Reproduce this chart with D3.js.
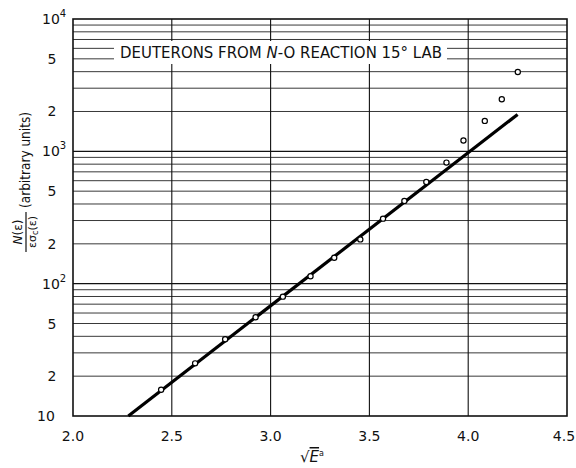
<!DOCTYPE html>
<html>
<head>
<meta charset="utf-8">
<script src="https://cdn.jsdelivr.net/npm/d3@7"></script>
<style>
  body { margin: 0; background: #fff; }
  text { font-family: "DejaVu Sans", sans-serif; fill: #111; }
</style>
</head>
<body>
<div id="chart"></div>
<script>
// measured points (sqrt E, N/eps sigma)
var sqrtE = [2.446, 2.618, 2.770, 2.924, 3.062, 3.202, 3.322, 3.454, 3.569, 3.677, 3.788, 3.890, 3.976, 4.084, 4.170, 4.251];
var counts = [15.8, 25.0, 38, 55.7, 79.8, 113.7, 157, 216, 310, 422, 587, 822, 1208, 1698, 2477, 3981];

// straight-line fit drawn on the plot
var fitX = [2.28, 4.25];
var fitY = [10, 1900];

var xTicks = [2.0, 2.5, 3.0, 3.5, 4.0, 4.5];
var yMajor = [10, 100, 1000, 10000];
var yLabelled = [20, 50, 200, 500, 2000, 5000];

var width = 576, height = 468;
var margin = { top: 19, right: 9, bottom: 52, left: 73 };

var svg = d3.select("#chart").append("svg")
  .attr("width", width)
  .attr("height", height);

var x = d3.scaleLinear().domain([2.0, 4.5]).range([margin.left, width - margin.right]);
var y = d3.scaleLog().domain([10, 10000]).range([height - margin.bottom, margin.top]);

// horizontal grid, every minor step of each decade
var gridVals = [];
[10, 100, 1000].forEach(function(d) {
  for (var k = 2; k <= 9; k++) gridVals.push(d * k);
});

svg.append("g").selectAll("line").data(gridVals).enter().append("line")
  .attr("x1", x(2.0)).attr("x2", x(4.5))
  .attr("y1", function(d) { return y(d); })
  .attr("y2", function(d) { return y(d); })
  .attr("stroke", "#222").attr("stroke-width", 0.9);

svg.append("g").selectAll("line").data(yMajor.slice(1, 3)).enter().append("line")
  .attr("x1", x(2.0)).attr("x2", x(4.5))
  .attr("y1", function(d) { return y(d); })
  .attr("y2", function(d) { return y(d); })
  .attr("stroke", "#111").attr("stroke-width", 1.3);

// vertical grid
svg.append("g").selectAll("line").data(xTicks.slice(1, -1)).enter().append("line")
  .attr("x1", function(d) { return x(d); })
  .attr("x2", function(d) { return x(d); })
  .attr("y1", y(10)).attr("y2", y(10000))
  .attr("stroke", "#111").attr("stroke-width", 1.1);

// frame
svg.append("rect")
  .attr("x", x(2.0)).attr("y", y(10000))
  .attr("width", x(4.5) - x(2.0)).attr("height", y(10) - y(10000))
  .attr("fill", "none").attr("stroke", "#111").attr("stroke-width", 1.6);

// title box
svg.append("rect")
  .attr("x", 114).attr("y", 41).attr("width", 333).attr("height", 23)
  .attr("fill", "#fff");
svg.append("text")
  .attr("x", 120).attr("y", 58)
  .attr("font-size", 15)
  .attr("textLength", 322).attr("lengthAdjust", "spacingAndGlyphs")
  .html('DEUTERONS FROM <tspan font-style="italic">N</tspan>-O REACTION 15° LAB');

// fit line
var line = d3.line()
  .x(function(d) { return x(d[0]); })
  .y(function(d) { return y(d[1]); });

svg.append("path")
  .attr("d", line(d3.zip(fitX, fitY)))
  .attr("fill", "none").attr("stroke", "#000").attr("stroke-width", 3.2);

// data points
svg.append("g").selectAll("circle").data(d3.zip(sqrtE, counts)).enter().append("circle")
  .attr("cx", function(d) { return x(d[0]); })
  .attr("cy", function(d) { return y(d[1]); })
  .attr("r", 2.6)
  .attr("fill", "#fff").attr("stroke", "#000").attr("stroke-width", 1.2);

// x tick labels (last one pulled in so it stays on the page)
svg.append("g").selectAll("text").data(xTicks).enter().append("text")
  .attr("x", function(d, i) { return i === xTicks.length - 1 ? x(d) - 3 : x(d); })
  .attr("y", 441)
  .attr("text-anchor", "middle")
  .attr("font-size", 14)
  .text(function(d) { return d.toFixed(1); });

// y tick labels
svg.append("g").selectAll("text").data(yLabelled).enter().append("text")
  .attr("x", 52)
  .attr("y", function(d) { return y(d) + 5; })
  .attr("text-anchor", "middle")
  .attr("font-size", 14)
  .text(function(d) { return String(d).charAt(0); });

svg.append("text")
  .attr("x", 37).attr("y", y(10) + 5)
  .attr("font-size", 14)
  .text("10");

svg.append("g").selectAll("text").data(yMajor.slice(1)).enter().append("text")
  .attr("x", 42)
  .attr("y", function(d) { return y(d) + 5; })
  .attr("font-size", 14)
  .html(function(d) {
    return '10<tspan dy="-7" font-size="10">' + Math.round(Math.log10(d)) + '</tspan>';
  });

// y axis label
var yl = svg.append("g").attr("transform", "translate(26,232) rotate(-90)");
yl.append("text").attr("x", 0).attr("y", -4).attr("text-anchor", "middle")
  .attr("font-size", 12)
  .html('<tspan font-style="italic">N</tspan>(ε)');
yl.append("line").attr("x1", -20).attr("x2", 20).attr("y1", 0).attr("y2", 0)
  .attr("stroke", "#111").attr("stroke-width", 1.2);
yl.append("text").attr("x", 0).attr("y", 10).attr("text-anchor", "middle")
  .attr("font-size", 11)
  .html('εσ<tspan font-size="8" dy="2">c</tspan><tspan dy="-2">(ε)</tspan>');
svg.append("text")
  .attr("transform", "translate(30,208) rotate(-90)")
  .attr("font-size", 14)
  .attr("textLength", 96).attr("lengthAdjust", "spacingAndGlyphs")
  .text("(arbitrary units)");

// x axis label
svg.append("text")
  .attr("x", 300).attr("y", 462)
  .attr("font-size", 15)
  .html('√<tspan font-style="italic" text-decoration="overline">E</tspan><tspan dy="-6" font-size="8">a</tspan>');
</script>
</body>
</html>
